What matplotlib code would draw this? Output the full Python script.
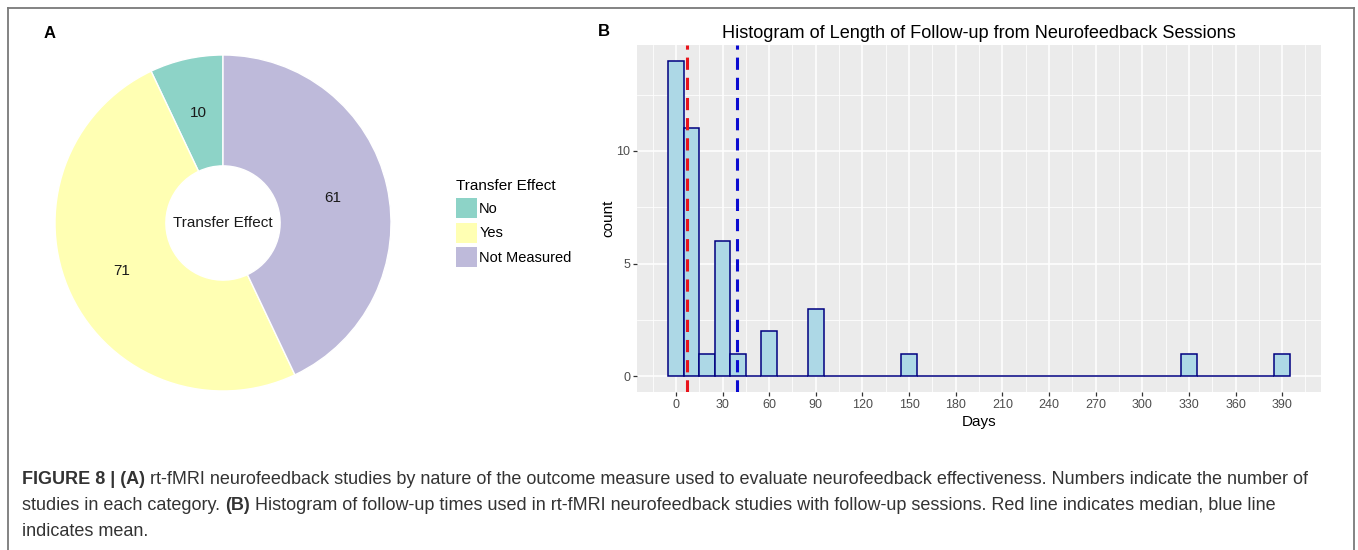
import numpy as np
import matplotlib
matplotlib.use("Agg")
import matplotlib.pyplot as plt
from matplotlib.patches import Patch
from matplotlib.lines import Line2D

plt.rcParams['font.family'] = ['Liberation Sans', 'DejaVu Sans']

# panel A data
effect_labels = ['No', 'Yes', 'Not Measured']
effect_counts = [10, 71, 61]
effect_colors = ['#8DD3C7', '#FFFFB3', '#BEBADA']

# panel B data: histogram bins of width 10 days, centred on 0, 10, ..., 390
bin_counts = [14, 11, 1, 6, 1, 0, 2, 0, 0, 3,
              0, 0, 0, 0, 0, 1, 0, 0, 0, 0,
              0, 0, 0, 0, 0, 0, 0, 0, 0, 0,
              0, 0, 0, 1, 0, 0, 0, 0, 0, 1]
bin_width = 10
median_days = 7
mean_days = 39.6
day_ticks = [0, 30, 60, 90, 120, 150, 180, 210, 240, 270, 300, 330, 360, 390]

W, H = 1358, 550
fig = plt.figure(figsize=(W / 100, H / 100), dpi=100)


def fx(px):
    return px / W


def fy(py):
    return 1 - py / H


# outer frame
frame_kw = dict(color='#7a7a7a', lw=1.3, transform=fig.transFigure)
fig.add_artist(Line2D([fx(7.5), fx(1353.5)], [fy(8), fy(8)], **frame_kw))
fig.add_artist(Line2D([fx(7.5), fx(7.5)], [fy(8), fy(552)], **frame_kw))
fig.add_artist(Line2D([fx(1353.5), fx(1353.5)], [fy(8), fy(552)], **frame_kw))

# ---- panel A: donut ----
axA = fig.add_axes([fx(55), fy(391), 336 / W, 336 / H])
total = sum(effect_counts)
wedges, _, autotexts = axA.pie(effect_counts, colors=effect_colors, startangle=90,
                               counterclock=True, radius=1,
                               autopct=lambda p: '%d' % round(p * total / 100),
                               pctdistance=0.67,
                               wedgeprops=dict(width=0.66, edgecolor='white', linewidth=1.0),
                               textprops=dict(fontsize=11, color='#1a1a1a'))
axA.set_xlim(-1, 1)
axA.set_ylim(-1, 1)
axA.set_aspect('equal')
axA.axis('off')
axA.text(0, 0, 'Transfer Effect', ha='center', va='center', fontsize=11, color='#1a1a1a')

fig.text(fx(50), fy(33), 'A', fontsize=12, fontweight='bold', ha='center', va='center')

handles = [Patch(facecolor=c, edgecolor='none') for c in effect_colors]
leg = fig.legend(handles, effect_labels, title='Transfer Effect', loc='upper left',
                 bbox_to_anchor=(fx(456), fy(179)), frameon=False, fontsize=10.5,
                 title_fontsize=11, handlelength=1.44, handleheight=1.73,
                 labelspacing=0.33, handletextpad=0.15, borderpad=0, borderaxespad=0,
                 alignment='left')

# ---- panel B: histogram ----
axB = fig.add_axes([fx(637), fy(392), (1321 - 637) / W, (392 - 45) / H])
axB.set_facecolor('#EBEBEB')
bin_centres = np.arange(len(bin_counts)) * bin_width
axB.bar(bin_centres, bin_counts, width=bin_width, color='#ADD8E6',
        edgecolor='#000080', linewidth=1.1, zorder=3)
axB.axvline(median_days, color='#e8141c', lw=2.2, ls=(0, (4, 2.6)), zorder=4)
axB.axvline(mean_days, color='#0a0ad0', lw=2.2, ls=(0, (4, 2.6)), zorder=4)

axB.set_xlim(-25, 415)
axB.set_ylim(-0.7, 14.7)
axB.set_xticks(day_ticks)
axB.set_xticks([-15] + [t + 15 for t in day_ticks], minor=True)
axB.set_yticks([0, 5, 10])
axB.set_yticks([2.5, 7.5, 12.5], minor=True)
axB.grid(which='major', color='white', lw=1.1, zorder=0)
axB.grid(which='minor', color='white', lw=0.55, zorder=0)
axB.set_axisbelow(True)
for s in axB.spines.values():
    s.set_visible(False)
axB.tick_params(which='major', length=3, width=0.9, color='#333333',
                labelsize=9, labelcolor='#4d4d4d', pad=2)
axB.tick_params(which='minor', length=0)
axB.set_xlabel('Days', fontsize=11)
axB.set_ylabel('count', fontsize=11)
axB.xaxis.set_label_coords(0.5, -0.066)
axB.yaxis.set_label_coords(-0.031, 0.5)
axB.set_title('Histogram of Length of Follow-up from Neurofeedback Sessions',
              fontsize=13.1, pad=5)

fig.text(fx(604), fy(32), 'B', fontsize=12, fontweight='bold', ha='center', va='center')

# ---- caption ----
cap_color = '#333333'
cap_size = 13.0
lines = [
    [('FIGURE 8 | (A)', 'bold'),
     (' rt-fMRI neurofeedback studies by nature of the outcome measure used to evaluate '
      'neurofeedback effectiveness. Numbers indicate the number of', 'normal')],
    [('studies in each category. ', 'normal'), ('(B)', 'bold'),
     (' Histogram of follow-up times used in rt-fMRI neurofeedback studies with follow-up '
      'sessions. Red line indicates median, blue line', 'normal')],
    [('indicates mean.', 'normal')],
]
line_y = [479, 505, 531]
for parts, yy in zip(lines, line_y):
    prev = None
    for txt, wt in parts:
        if prev is None:
            prev = fig.text(fx(22), fy(yy), txt, fontsize=cap_size, fontweight=wt,
                            color=cap_color, ha='left', va='center')
        else:
            prev = fig.add_artist(matplotlib.text.Annotation(
                txt, xy=(1, 0.5), xycoords=prev, fontsize=cap_size, fontweight=wt,
                color=cap_color, ha='left', va='center'))

fig.savefig('out.png', dpi=100)
